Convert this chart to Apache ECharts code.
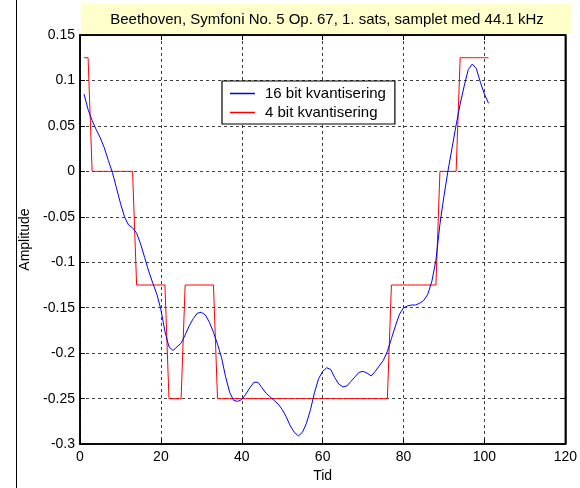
<!DOCTYPE html>
<html>
<head>
<meta charset="utf-8">
<script src="https://cdn.jsdelivr.net/npm/echarts@6/dist/echarts.min.js"></script>
<style>
html,body{margin:0;padding:0;background:#fff;}
#chart{width:580px;height:488px;}
</style>
</head>
<body>
<div id="chart"></div>
<script>
const titleText = 'Beethoven, Symfoni No. 5 Op. 67, 1. sats, samplet med 44.1 kHz';
const seriesNames = ['16 bit kvantisering', '4 bit kvantisering'];
const xLabel = 'Tid';
const yLabel = 'Amplitude';

// sample index 1..101
const sampleIdx = Array.from({length: 101}, (_, i) => i + 1);

const blue16 = [
  0.085, 0.068, 0.056, 0.046, 0.037, 0.026, 0.012, -0.001, -0.018, -0.035,
  -0.050, -0.059, -0.062, -0.068, -0.080, -0.095, -0.110, -0.123, -0.135, -0.152,
  -0.176, -0.193, -0.197, -0.193, -0.189, -0.180, -0.170, -0.162, -0.156, -0.155,
  -0.158, -0.166, -0.177, -0.190, -0.205, -0.226, -0.243, -0.252, -0.253, -0.251,
  -0.245, -0.238, -0.232, -0.232, -0.238, -0.244, -0.248, -0.252, -0.256, -0.262,
  -0.270, -0.280, -0.287, -0.291, -0.287, -0.277, -0.262, -0.243, -0.228, -0.220,
  -0.216, -0.218, -0.227, -0.234, -0.237, -0.236, -0.231, -0.226, -0.221, -0.220,
  -0.222, -0.225, -0.220, -0.214, -0.208, -0.198, -0.184, -0.170, -0.157, -0.150,
  -0.148, -0.147, -0.147, -0.145, -0.142, -0.135, -0.121, -0.098, -0.058, -0.027,
  0.001, 0.026, 0.051, 0.074, 0.094, 0.112, 0.118, 0.113, 0.098, 0.085,
  0.075
];

const red4 = [
  0.125, 0.125, 0, 0, 0, 0, 0, 0, 0, 0,
  0, 0, 0, -0.125, -0.125, -0.125, -0.125, -0.125, -0.125, -0.125,
  -0.125, -0.25, -0.25, -0.25, -0.25, -0.125, -0.125, -0.125, -0.125, -0.125,
  -0.125, -0.125, -0.125, -0.25, -0.25, -0.25, -0.25, -0.25, -0.25, -0.25,
  -0.25, -0.25, -0.25, -0.25, -0.25, -0.25, -0.25, -0.25, -0.25, -0.25,
  -0.25, -0.25, -0.25, -0.25, -0.25, -0.25, -0.25, -0.25, -0.25, -0.25,
  -0.25, -0.25, -0.25, -0.25, -0.25, -0.25, -0.25, -0.25, -0.25, -0.25,
  -0.25, -0.25, -0.25, -0.25, -0.25, -0.25, -0.125, -0.125, -0.125, -0.125,
  -0.125, -0.125, -0.125, -0.125, -0.125, -0.125, -0.125, -0.125, 0, 0,
  0, 0, 0, 0.125, 0.125, 0.125, 0.125, 0.125, 0.125, 0.125,
  0.125
];

const FONT = 'Liberation Sans, Arial, sans-serif';
const chart = echarts.init(document.getElementById('chart'), null, {renderer: 'canvas'});

const gridLine = {show: true, lineStyle: {color: '#000', type: [3, 3], width: 1, opacity: 0.75}};

const option = {
  animation: false,
  backgroundColor: '#fff',
  textStyle: {fontFamily: FONT},
  grid: {left: 80, right: 8, top: 35, bottom: 41, show: true, borderColor: '#000', borderWidth: 1.5, containLabel: false},
  legend: {
    data: seriesNames,
    orient: 'vertical',
    left: 222, top: 81,
    itemWidth: 25, itemHeight: 1.5,
    icon: 'rect',
    itemGap: 4,
    padding: [5, 9, 4, 8],
    borderColor: '#000', borderWidth: 1.2,
    backgroundColor: '#fff',
    textStyle: {fontFamily: FONT, fontSize: 15, lineHeight: 15, color: '#000', padding: [0, 0, 0, 5]}
  },
  xAxis: [{
    type: 'value', min: 0, max: 120, interval: 20,
    name: xLabel, nameLocation: 'middle', nameGap: 24,
    nameTextStyle: {fontFamily: FONT, fontSize: 14, color: '#000'},
    axisLine: {show: true, onZero: false, lineStyle: {color: '#000', width: 1.5}},
    axisTick: {show: true, inside: true, length: 5, lineStyle: {color: '#000'}},
    axisLabel: {fontFamily: FONT, fontSize: 14, color: '#000', margin: 6},
    splitLine: gridLine
  }, {
    type: 'value', min: 0, max: 120, interval: 20, position: 'top',
    axisLine: {show: true, onZero: false, lineStyle: {color: '#000', width: 1.5}},
    axisTick: {show: true, inside: true, length: 5, lineStyle: {color: '#000'}},
    axisLabel: {show: false}, splitLine: {show: false}
  }],
  yAxis: [{
    type: 'value', min: -0.3, max: 0.15, interval: 0.05,
    name: yLabel, nameLocation: 'middle', nameGap: 45,
    nameTextStyle: {fontFamily: FONT, fontSize: 14, color: '#000'},
    axisLine: {show: true, onZero: false, lineStyle: {color: '#000', width: 1.5}},
    axisTick: {show: true, inside: true, length: 5, lineStyle: {color: '#000'}},
    axisLabel: {fontFamily: FONT, fontSize: 14, color: '#000', margin: 5},
    splitLine: gridLine
  }, {
    type: 'value', min: -0.3, max: 0.15, interval: 0.05, position: 'right',
    axisLine: {show: true, onZero: false, lineStyle: {color: '#000', width: 1.5}},
    axisTick: {show: true, inside: true, length: 5, lineStyle: {color: '#000'}},
    axisLabel: {show: false}, splitLine: {show: false}
  }],
  series: [{
    name: seriesNames[0], type: 'line', showSymbol: false, symbol: 'none',
    data: sampleIdx.map((x, i) => [x, blue16[i]]),
    lineStyle: {color: '#0000ff', width: 1}, itemStyle: {color: '#0000ff'}, z: 3
  }, {
    name: seriesNames[1], type: 'line', showSymbol: false, symbol: 'none',
    data: sampleIdx.map((x, i) => [x, red4[i]]),
    lineStyle: {color: '#ff0000', width: 1}, itemStyle: {color: '#ff0000'}, z: 2
  }],
  graphic: [
    {type: 'line', shape: {x1: 16.5, y1: 0, x2: 16.5, y2: 488}, style: {stroke: '#000', lineWidth: 1}},
    {type: 'rect', shape: {x: 81, y: 4, width: 491, height: 30}, style: {fill: '#ffffcc'}, z: -1},
    {type: 'text', x: 327, y: 20, style: {text: titleText, fontFamily: FONT, fontSize: 15, fill: '#000', align: 'center', verticalAlign: 'middle'}}
  ]
};
chart.setOption(option);
</script>
</body>
</html>
